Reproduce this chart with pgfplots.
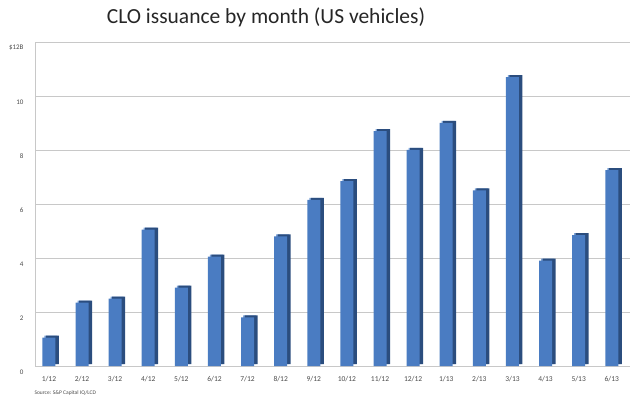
\documentclass[border=0pt]{standalone}
\usepackage{fontspec}
\setmainfont{Carlito}
\usepackage{pgfplots}
\pgfplotsset{compat=1.18}
\definecolor{barfront}{HTML}{4A7CC2}
\definecolor{barside}{HTML}{2B4D7E}
\definecolor{bartop}{HTML}{7FA4D8}
\definecolor{gridc}{HTML}{C8C8C8}
\definecolor{txt}{HTML}{4A4A4A}
\pgfplotstableread{
x v
0 1.05
1 2.35
2 2.5
3 5.05
4 2.9
5 4.05
6 1.8
7 4.8
8 6.15
9 6.85
10 8.7
11 8.0
12 9.0
13 6.5
14 10.7
15 3.9
16 4.85
17 7.25
}\datatable
\begin{document}
\begin{tikzpicture}[x=1pt,y=1pt]
\path (0,0) rectangle (640,399);
\node[font=\fontsize{21.5}{24}\selectfont, text=black!85] at (266,382) {CLO issuance by month (US vehicles)};
\node[font=\fontsize{5.5}{6}\selectfont, text=txt, anchor=west] at (31,6) {Source: S\&P Capital IQ/LCD};
\begin{axis}[
  at={(35pt,33pt)}, anchor=south west,
  scale only axis, width=595pt, height=324pt,
  xmin=-0.42, xmax=17.55, ymin=0, ymax=12,
  axis x line*=bottom, axis y line*=left,
  axis line style={gridc, line width=0.8pt},
  ymajorgrids, grid style={gridc, line width=0.8pt},
  major tick length=0pt,
  ytick={0,2,4,6,8,10,12},
  yticklabels={0,2,4,6,8,10,\$12B},
  yticklabel style={font=\fontsize{7}{8}\selectfont, text=txt, xshift=-8pt, yshift=-6pt},
  xtick={0,...,17},
  xticklabels={1/12,2/12,3/12,4/12,5/12,6/12,7/12,8/12,9/12,10/12,11/12,12/12,1/13,2/13,3/13,4/13,5/13,6/13},
  xticklabel style={font=\fontsize{7.5}{8}\selectfont, text=txt, yshift=-7pt},
  /pgf/number format/assume math mode=true,
]
\addplot[ybar, bar width=13pt, bar shift=2pt, fill=bartop, draw=none, yshift=2pt] table[x=x,y=v] {\datatable};
\addplot[ybar, bar width=13pt, bar shift=3.5pt, fill=barside, draw=none, yshift=2pt] table[x=x,y=v] {\datatable};
\addplot[ybar, bar width=13pt, bar shift=0pt, fill=barfront, draw=none] table[x=x,y=v] {\datatable};
\end{axis}
\end{tikzpicture}
\end{document}
